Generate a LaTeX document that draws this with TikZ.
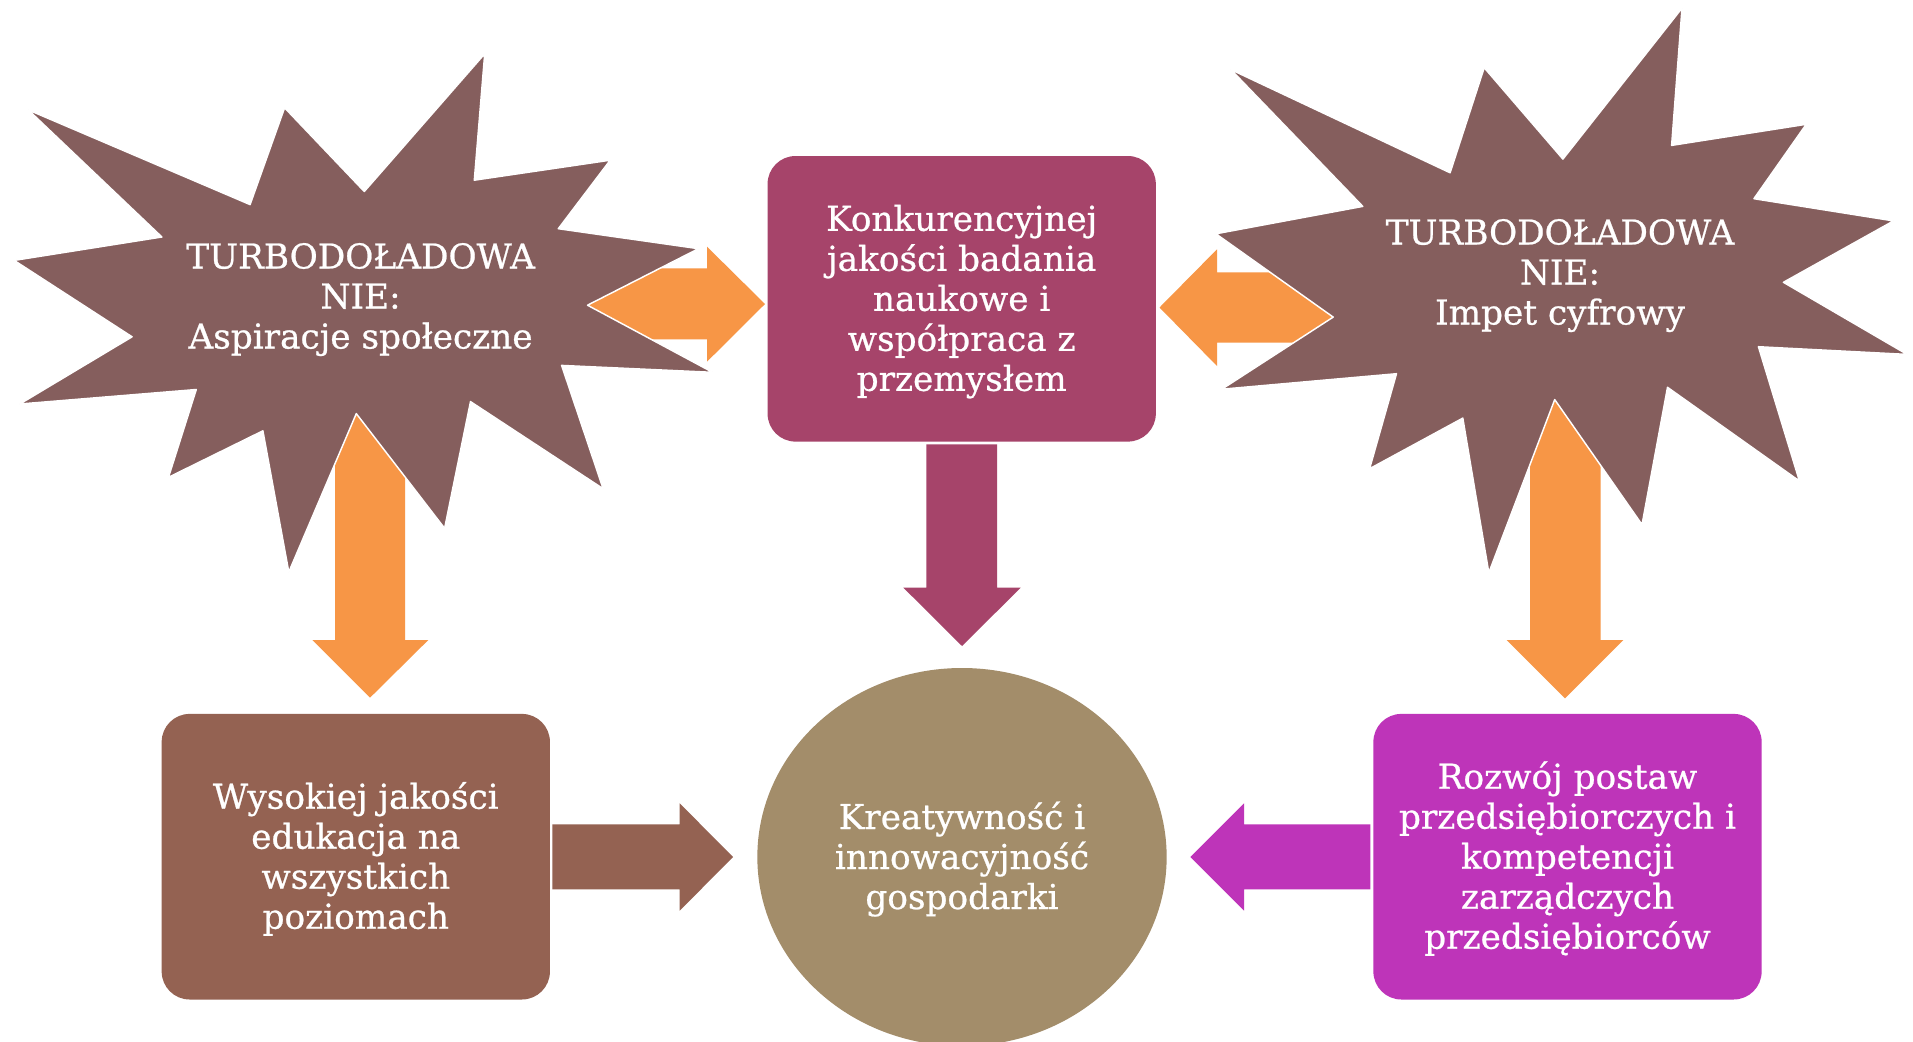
\documentclass[tikz,border=0pt]{standalone}
\usepackage{fontspec}
\setmainfont{DejaVu Serif}[FakeBold=0.7]
\usetikzlibrary{shapes.geometric}
\definecolor{starc}{RGB}{133,94,93}
\definecolor{orangec}{RGB}{247,150,70}
\definecolor{topc}{RGB}{166,68,106}
\definecolor{eduC}{RGB}{148,98,82}
\definecolor{entC}{RGB}{190,52,185}
\definecolor{ellC}{RGB}{163,141,106}
\newcommand{\mytopst}{\rule{0pt}{24.75pt}}
\newcommand{\mybotst}{\rule[-6.75pt]{0pt}{6.75pt}}
\begin{document}
\begin{tikzpicture}[x=0.75pt,y=-0.75pt,
  txt/.style={text=white, align=center, inner sep=0pt,
    font=\fontsize{25.7pt}{30pt}\selectfont},
  boxs/.style={txt, rectangle, rounded corners=21pt, minimum width=291.2pt, minimum height=214.2pt},
  starshape/.style={fill=starc, draw=white, line width=1.1pt, line join=round},
  oarrow/.style={fill=orangec, draw=none}]
\clip (0,0) rectangle (1913,1042);
\fill[white] (0,0) rectangle (1913,1042);

% orange arrows (partly hidden behind the stars)
\fill[oarrow] (555,268.3) -- (707,268.3) -- (707,246.7) -- (765,304) -- (707,361.7) -- (707,339.3) -- (555,339.3) -- cycle;
\fill[oarrow] (1390,272.3) -- (1217,272.3) -- (1217,249.3) -- (1159.5,307.5) -- (1217,366) -- (1217,342.7) -- (1390,342.7) -- cycle;
\fill[oarrow] (335,380) -- (335,640) -- (312.3,640) -- (370,697.7) -- (428.3,640) -- (405,640) -- (405,380) -- cycle;
\fill[oarrow] (1530,370) -- (1530,640) -- (1506.7,640) -- (1565,698.3) -- (1623.3,640) -- (1600.7,640) -- (1600.7,370) -- cycle;

% stars
\draw[starshape] (484.7,53.8) -- (474.3,180.2) -- (610.2,160.2) -- (558.3,228.7) -- (698.4,248.7) -- (587.5,305.2) -- (712.6,372.3) -- (561.6,365.4) -- (603.1,488.7) -- (470.5,401.6) -- (444.6,528.3) -- (356.3,413.6) -- (288.8,572.0) -- (262.9,430.8) -- (168.5,477.3) -- (196.3,389.5) -- (19.8,404.0) -- (132.1,336.8) -- (14.2,260.4) -- (161.9,237.0) -- (28.3,109.9) -- (250.1,204.6) -- (284.6,107.8) -- (364.3,191.5) -- cycle;
\draw[starshape] (1682.0,8.1) -- (1671.6,145.4) -- (1806.2,124.3) -- (1753.9,198.7) -- (1893.5,220.9) -- (1783.4,282.3) -- (1907.1,354.4) -- (1758.4,346.7) -- (1799.4,481.0) -- (1667.5,387.3) -- (1642.0,524.6) -- (1554.7,399.6) -- (1488.8,572.7) -- (1462.8,418.1) -- (1369.6,468.7) -- (1396.5,373.7) -- (1221.8,389.2) -- (1333.2,317.1) -- (1215.9,233.8) -- (1362.8,206.4) -- (1230.9,69.6) -- (1450.1,172.8) -- (1484.2,67.7) -- (1562.9,159.1) -- cycle;

\node[txt] (lstar) at (360.6,296.5) {\mytopst TURBODOŁADOWA\\NIE:\\Aspiracje społeczne\mybotst};
\node[txt] (rstar) at (1560,272.5) {\mytopst TURBODOŁADOWA\\NIE:\\Impet cyfrowy\mybotst};

% boxes
\node[boxs, fill=topc] (top) at (961.7,298.8) {\mytopst Konkurencyjnej\\jakości badania\\naukowe i\\współpraca z\\przemysłem\mybotst};
\node[boxs, fill=eduC] (edu) at (355.8,856.7) {\mytopst Wysokiej jakości\\edukacja na\\wszystkich\\poziomach\mybotst};
\node[boxs, fill=entC] (ent) at (1567.5,856.7) {\mytopst Rozwój postaw\\przedsiębiorczych i\\kompetencji\\zarządczych\\przedsiębiorców\mybotst};
\node[txt, ellipse, fill=ellC, minimum width=307pt, minimum height=283.5pt] (core) at (962,857) {\mytopst Kreatywność i\\innowacyjność\\gospodarki\mybotst};

% arrows towards the core
\fill[topc] (926.3,444.3) -- (926.3,587.7) -- (903.4,587.7) -- (962,646) -- (1020.7,587.7) -- (997.2,587.7) -- (997.2,444.3) -- cycle;
\fill[eduC] (552.4,824.3) -- (679.7,824.3) -- (679.7,803.3) -- (733,857) -- (679.7,910.7) -- (679.7,889.3) -- (552.4,889.3) -- cycle;
\fill[entC] (1370.3,824.3) -- (1244,824.3) -- (1244,803.3) -- (1190.3,857) -- (1244,910.7) -- (1244,889.3) -- (1370.3,889.3) -- cycle;
\end{tikzpicture}
\end{document}
